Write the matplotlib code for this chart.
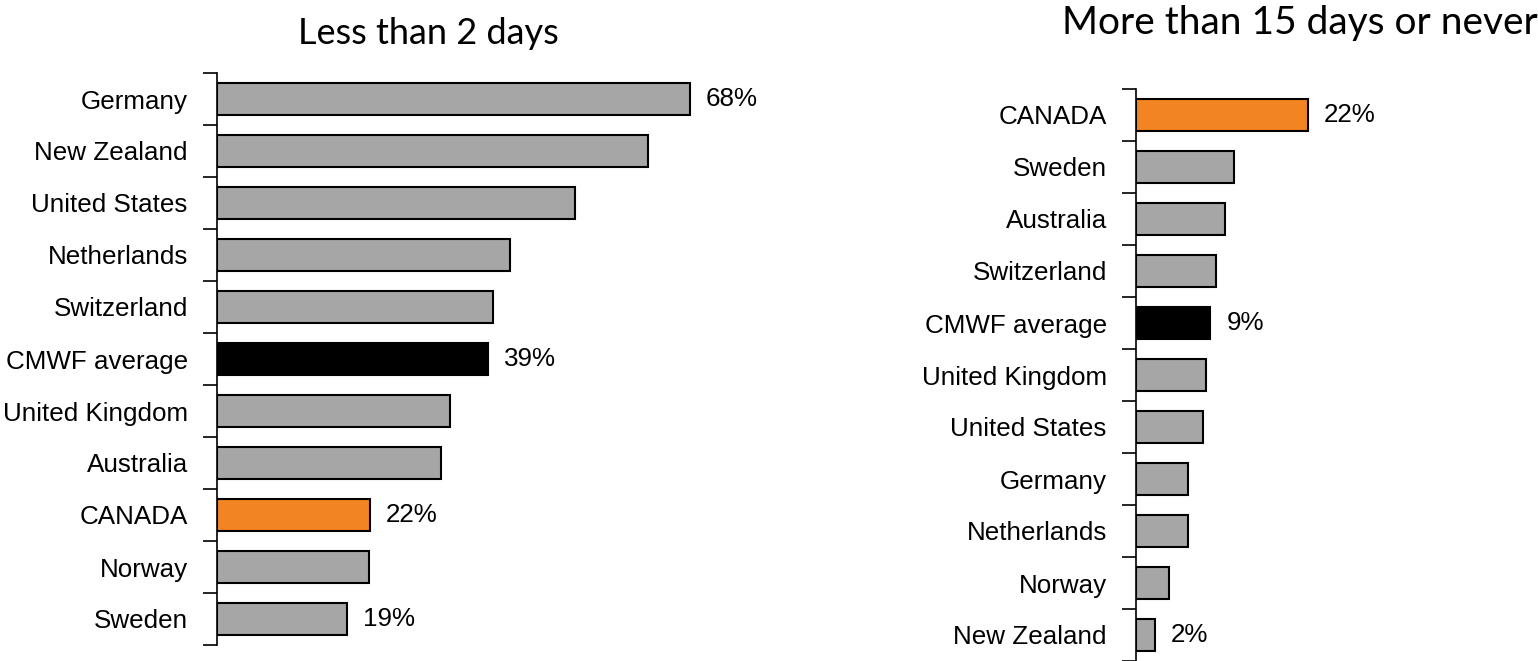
import matplotlib.pyplot as plt

# left panel: share answering "less than 2 days"
left_countries = ['Germany', 'New Zealand', 'United States', 'Netherlands', 'Switzerland',
                  'CMWF average', 'United Kingdom', 'Australia', 'CANADA', 'Norway', 'Sweden']
left_values = [68, 62, 51.5, 42.2, 39.7, 39, 33.5, 32.2, 22, 21.9, 18.7]
left_labels = {'Germany': '68%', 'CMWF average': '39%', 'CANADA': '22%', 'Sweden': '19%'}

# right panel: share answering "more than 15 days or never"
right_countries = ['CANADA', 'Sweden', 'Australia', 'Switzerland', 'CMWF average',
                   'United Kingdom', 'United States', 'Germany', 'Netherlands', 'Norway', 'New Zealand']
right_values = [21.8, 12.4, 11.3, 10.1, 9.4, 8.9, 8.5, 6.6, 6.6, 4.2, 2.4]
right_labels = {'CANADA': '22%', 'CMWF average': '9%', 'New Zealand': '2%'}

GREY = '#A6A6A6'
ORANGE = '#F28522'
LABEL_FONT = ['Liberation Sans', 'DejaVu Sans']
TITLE_FONT = ['Lato', 'DejaVu Sans']


def colour(name):
    if name == 'CANADA':
        return ORANGE
    if name == 'CMWF average':
        return 'black'
    return GREY


W, H = 1538, 661
fig = plt.figure(figsize=(W / 100, H / 100), dpi=100)
plt.rcParams['font.family'] = LABEL_FONT


def panel(rect, countries, values, labels, px_per_pct, title, title_xy, title_size):
    x0, y0, w, h = rect
    ax = fig.add_axes([x0 / W, 1 - (y0 + h) / H, w / W, h / H])
    n = len(countries)
    ypos = list(range(n))
    ax.barh(ypos, values, height=0.6, color=[colour(c) for c in countries],
            edgecolor='black', linewidth=1.5)
    ax.set_ylim(n - 0.5, -0.5)
    ax.set_xlim(0, w / px_per_pct)
    ax.set_yticks(ypos)
    ax.set_yticklabels(countries, fontsize=18.7)
    ax.set_yticks([i - 0.5 for i in range(n + 1)], minor=True)
    ax.tick_params(axis='y', which='major', length=0, pad=21)
    ax.tick_params(axis='y', which='minor', length=10, width=1.2, direction='out')
    ax.set_xticks([])
    for s in ['top', 'right', 'bottom']:
        ax.spines[s].set_visible(False)
    ax.spines['left'].set_linewidth(1.2)
    for i, c in enumerate(countries):
        if c in labels:
            ax.text(values[i] + 16 / px_per_pct, i, labels[c], va='center', ha='left',
                    fontsize=18.7)
    fig.text(title_xy[0] / W, 1 - title_xy[1] / H, title, ha='center', va='center',
             fontsize=title_size, family=TITLE_FONT)
    return ax


panel((217, 73, 550, 572), left_countries, left_values, left_labels, 6.95,
      'Less than 2 days', (428, 33), 26)
panel((1136, 89, 300, 572), right_countries, right_values, right_labels, 7.9,
      'More than 15 days or never', (1300, 23), 28)

fig.savefig('out.png', dpi=100)
